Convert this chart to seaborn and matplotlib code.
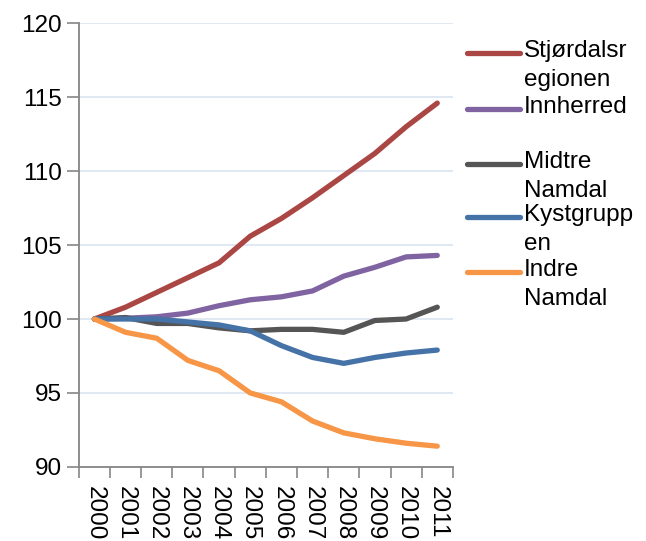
import numpy as np
import pandas as pd
import matplotlib
matplotlib.use("Agg")
import matplotlib.pyplot as plt
from matplotlib.lines import Line2D
import seaborn as sns

# ───── Data (index, 2000 = 100) ─────────────────────────────────────────
years = list(range(2000, 2012))
stjordal = [100, 100.8, 101.8, 102.8, 103.8, 105.6, 106.8, 108.2, 109.7, 111.2, 113.0, 114.6]
innherred = [100, 100.05, 100.15, 100.4, 100.9, 101.3, 101.5, 101.9, 102.9, 103.5, 104.2, 104.3]
midtre = [100, 100.1, 99.7, 99.7, 99.4, 99.2, 99.3, 99.3, 99.1, 99.9, 100.0, 100.8]
kyst = [100, 100.0, 100.0, 99.8, 99.6, 99.2, 98.2, 97.4, 97.0, 97.4, 97.7, 97.9]
indre = [100, 99.1, 98.7, 97.2, 96.5, 95.0, 94.4, 93.1, 92.3, 91.9, 91.6, 91.4]

regions = ["Stjørdalsregionen", "Innherred", "Midtre Namdal", "Kystgruppen", "Indre Namdal"]
legend_labels = ["Stjørdalsr\negionen", "Innherred", "Midtre\nNamdal", "Kystgrupp\nen", "Indre\nNamdal"]
colors = ["#AA4643", "#8064A2", "#555555", "#4572A7", "#F79646"]

series = [stjordal, innherred, midtre, kyst, indre]
df = pd.concat(
    [pd.DataFrame({"year": years, "value": vals, "region": name}) for name, vals in zip(regions, series)],
    ignore_index=True,
)

# ───── Plot ─────────────────────────────────────────────────────────────
sns.set_style("white")
plt.rcParams["font.family"] = ["Liberation Sans", "DejaVu Sans"]
plt.rcParams["text.color"] = "black"
plt.rcParams["xtick.labelcolor"] = "black"
plt.rcParams["ytick.labelcolor"] = "black"

fig = plt.figure(figsize=(6.46, 5.41), dpi=100)
ax = fig.add_axes([0.122, 0.137, 0.579, 0.820])

sns.lineplot(data=df, x="year", y="value", hue="region", palette=colors,
             hue_order=regions, linewidth=3.8, legend=False, ax=ax,
             solid_capstyle="round")

ax.set_ylim(90, 120)
ax.set_yticks(range(90, 121, 5))
ax.set_xlim(years[0] - 0.5, years[-1] + 0.5)

# category boundaries as major ticks, labels at category centres
ax.set_xticks(np.arange(years[0] - 0.5, years[-1] + 1, 1.0))
ax.set_xticklabels([])
ax.set_xticks(years, minor=True)
ax.set_xticklabels([str(y) for y in years], minor=True, rotation=270, fontsize=17.5,
                   va="top", ha="center")
ax.tick_params(axis="x", which="minor", length=0, pad=14)
ax.tick_params(axis="x", which="major", length=8, width=1.2, color="#868686", direction="out", bottom=True)
ax.tick_params(axis="y", length=9, width=1.2, color="#868686", direction="out", left=True, labelsize=17.5, pad=3)

ax.grid(axis="y", color="#DCE6F2", linewidth=1.3)
ax.set_axisbelow(True)
for side in ["top", "right"]:
    ax.spines[side].set_visible(False)
for side in ["left", "bottom"]:
    ax.spines[side].set_color("#868686")
    ax.spines[side].set_linewidth(1.3)
ax.set_xlabel("")
ax.set_ylabel("")

# ───── Legend (handle aligned with first text line) ─────────────────────
W, H = 646, 541
legend_y = [53, 109, 164, 217, 272]
for lab, col, py in zip(legend_labels, colors, legend_y):
    yf = 1 - py / H
    fig.add_artist(Line2D([467 / W, 520 / W], [yf, yf], color=col, linewidth=3.8,
                          solid_capstyle="round", transform=fig.transFigure))
    fig.text(524 / W, 1 - (py - 13) / H, lab, fontsize=17.5, va="top", ha="left",
             linespacing=1.4)

fig.savefig("out.png", dpi=100)
